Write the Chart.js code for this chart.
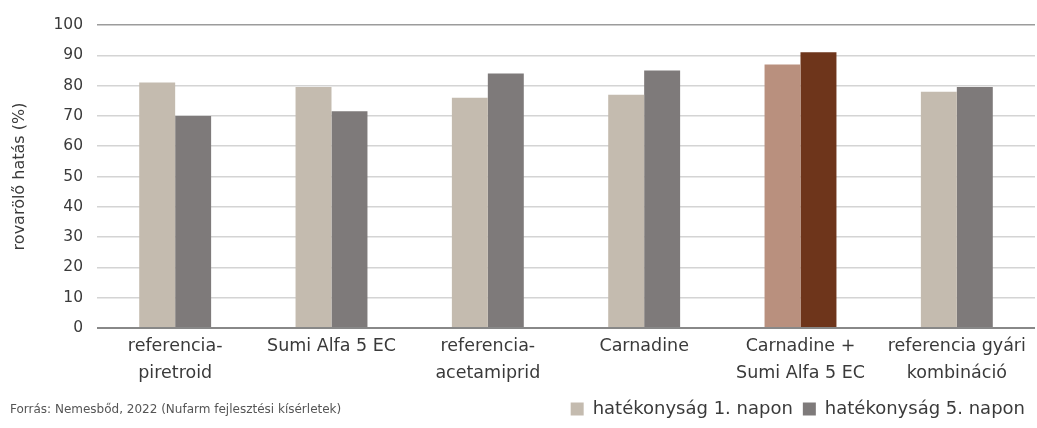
<!DOCTYPE html>
<html>
<head>
<meta charset="utf-8">
<script src="https://cdn.jsdelivr.net/npm/chart.js@4/dist/chart.umd.min.js"></script>
<style>
  html, body { margin: 0; padding: 0; background: #fff; }
  #wrap { width: 1037px; height: 428px; position: relative; }
</style>
</head>
<body>
<div id="wrap"><canvas id="chart-hatas"></canvas></div>
<script>
// data
const categories = [
  ['referencia-', 'piretroid'],
  'Sumi Alfa 5 EC',
  ['referencia-', 'acetamiprid'],
  'Carnadine',
  ['Carnadine +', 'Sumi Alfa 5 EC'],
  ['referencia gyári', 'kombináció']
];
const seriesNames = ['hatékonyság 1. napon', 'hatékonyság 5. napon'];
const day1 = [81, 79.5, 76, 77, 87, 78];
const day5 = [70, 71.5, 84, 85, 91, 79.5];
const yTicks = [0, 10, 20, 30, 40, 50, 60, 70, 80, 90, 100];
const sourceNote = 'Forrás: Nemesbőd, 2022 (Nufarm fejlesztési kísérletek)';

const FONT = '"DejaVu Sans", sans-serif';
const TEXT = '#3a3a3a';
const highlight = 4; // the Carnadine + Sumi Alfa bars are drawn in brown

const colorsFor = (base, accent) => categories.map((_, i) => (i === highlight ? accent : base));

const sourcePlugin = {
  id: 'sourceNote',
  afterDraw(chart) {
    const { ctx, legend } = chart;
    ctx.save();
    ctx.font = '12px ' + FONT;
    ctx.fillStyle = '#555';
    ctx.textBaseline = 'middle';
    ctx.fillText(sourceNote, 10, legend.top + legend.height / 2 + 1);
    ctx.restore();
  }
};

const el = document.getElementById('chart-hatas');
new Chart(el, {
  type: 'bar',
  data: {
    labels: categories,
    datasets: [
      {
        label: seriesNames[0],
        data: day1,
        backgroundColor: colorsFor('#c4bbaf', '#b9907e'),
        legendColor: '#c4bbaf'
      },
      {
        label: seriesNames[1],
        data: day5,
        backgroundColor: colorsFor('#7e7a7a', '#6e351b'),
        legendColor: '#7e7a7a'
      }
    ]
  },
  options: {
    responsive: true,
    maintainAspectRatio: false,
    animation: false,
    layout: { padding: { top: 25, right: 2, left: 0, bottom: 0 } },
    datasets: {
      bar: { categoryPercentage: 0.46, barPercentage: 1.0 }
    },
    plugins: {
      tooltip: { enabled: false },
      legend: {
        position: 'bottom',
        align: 'end',
        labels: {
          color: TEXT,
          font: { family: FONT, size: 18 },
          boxWidth: 13,
          boxHeight: 13,
          padding: 10,
          generateLabels: (chart) => chart.data.datasets.map((ds, i) => ({
            text: ds.label,
            fillStyle: ds.legendColor,
            strokeStyle: ds.legendColor,
            lineWidth: 0,
            fontColor: TEXT,
            hidden: false,
            datasetIndex: i
          }))
        }
      }
    },
    scales: {
      x: {
        grid: { display: false },
        border: { display: false },
        ticks: {
          color: TEXT,
          font: { family: FONT, size: 17.5, lineHeight: 1.55 },
          padding: -3,
          maxRotation: 0,
          autoSkip: false
        },
        afterFit: (scale) => { scale.height = 62; }
      },
      y: {
        min: 0,
        max: 100,
        afterBuildTicks: (scale) => { scale.ticks = yTicks.map((v) => ({ value: v })); },
        afterFit: (scale) => { scale.width = 97; },
        border: { display: false },
        grid: {
          drawTicks: false,
          lineWidth: (c) => (c.tick && c.tick.value === 0 ? 2 : 1.5),
          color: (c) => {
            if (!c.tick) return '#d4d4d4';
            if (c.tick.value === 0) return '#888888';
            if (c.tick.value === 100) return '#9c9c9c';
            return '#d4d4d4';
          }
        },
        ticks: {
          color: TEXT,
          font: { family: FONT, size: 15.5 },
          padding: 14
        },
        title: {
          display: true,
          text: 'rovarölő hatás (%)',
          color: TEXT,
          font: { family: FONT, size: 16 },
          padding: { top: 10, bottom: 0 }
        }
      }
    }
  },
  plugins: [sourcePlugin]
});
</script>
</body>
</html>
